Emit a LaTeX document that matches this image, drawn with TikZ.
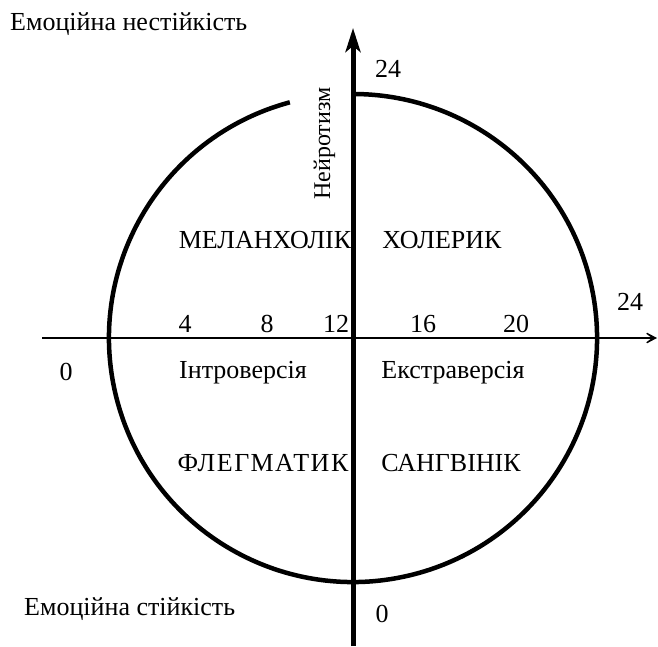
\documentclass[tikz,border=0pt]{standalone}
\usepackage{fontspec}
\setmainfont{Liberation Serif}
\usetikzlibrary{arrows.meta}
\begin{document}
\begin{tikzpicture}[x=1pt,y=-1pt,
  lbl/.style={font=\fontsize{26}{30}\selectfont, inner sep=0pt, anchor=base},
  lblw/.style={lbl, anchor=base west},
  vaxis/.style={line width=5pt, -{Stealth[length=24pt,width=15pt,inset=6pt]}},
  haxis/.style={line width=2.2pt, -{Stealth[length=17pt,width=18pt,inset=12pt]}},
  ring/.style={line width=4.5pt}]
\useasboundingbox (0,0) rectangle (658,646);
\coordinate (O) at (353,338);
\coordinate (vb) at (353,646);
\coordinate (vt) at (353,28);
\coordinate (hl) at (42,338);
\coordinate (hr) at (657,338);
% circle with gap at the top left
\draw[ring] (O) ++(-105:244) arc[start angle=-105, end angle=-450, radius=244];
% axes
\draw[haxis] (hl) -- (hr);
\draw[vaxis] (vb) -- (vt);
% labels
\node[lblw] (en) at (10,30) {Емоційна нестійкість};
\node[lblw] (es) at (24,615) {Емоційна стійкість};
\node[lbl] (t24) at (388,77) {24};
\node[lbl] (b0) at (382,622) {0};
\node[lbl,font=\fontsize{24}{30}\selectfont,rotate=90] (nt) at (330,143.5) {Нейротизм};
\node[lbl] (mel) at (265,248) {МЕЛАНХОЛІК};
\node[lbl] (hol) at (442,248) {ХОЛЕРИК};
\node[lbl] (fl) at (263,471) {\addfontfeatures{LetterSpace=6}ФЛЕГМАТИК};
\node[lbl] (san) at (451,471) {САНГВІНІК};
\node[lbl] (n4) at (185,332) {4};
\node[lbl] (n8) at (267,332) {8};
\node[lbl] (n12) at (336,332) {12};
\node[lbl] (n16) at (423,332) {16};
\node[lbl] (n20) at (516,332) {20};
\node[lbl] (r24) at (630,310) {24};
\node[lbl] (l0) at (66,380) {0};
\node[lbl] (intro) at (243,378) {Інтроверсія};
\node[lbl] (ext) at (453,378) {Екстраверсія};
\end{tikzpicture}
\end{document}
